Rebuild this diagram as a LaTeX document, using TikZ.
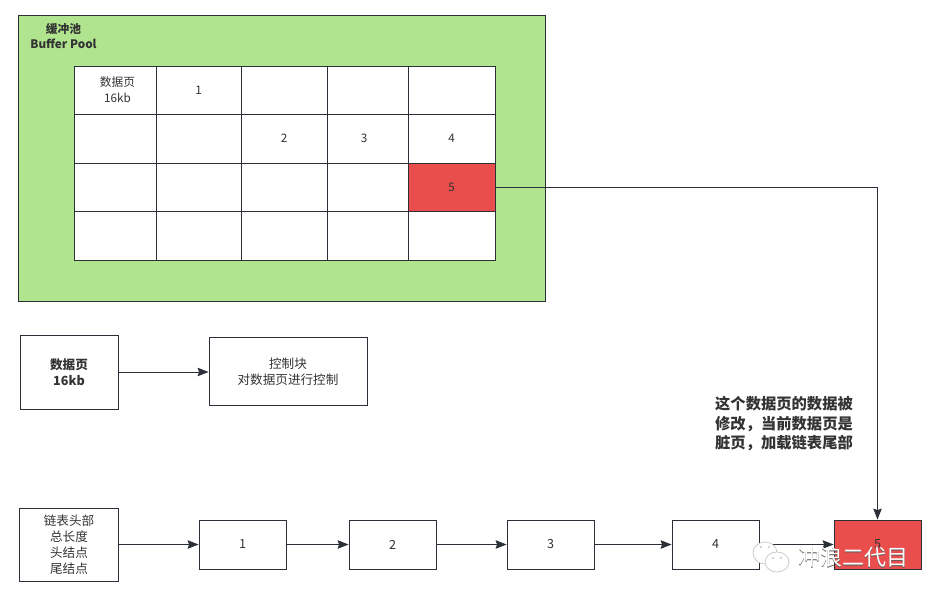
\documentclass[tikz,border=0pt]{standalone}
\usepackage{fontspec}
\setmainfont{Noto Sans CJK SC}
\usetikzlibrary{arrows.meta}
\definecolor{ln}{HTML}{2B3038}
\definecolor{txt}{HTML}{333333}
\definecolor{gr}{HTML}{B0E48F}
\definecolor{rd}{HTML}{E94E4C}
\tikzset{
 x=1pt,y=-1pt,
 box/.style={draw=ln,line width=0.85pt,fill=white,inner sep=0pt,text=txt,align=center,font=\fontsize{12.6}{16}\selectfont},
 cellbox/.style={box,font=\fontsize{11.7}{16}\selectfont},
 conn/.style={draw=ln,line width=0.85pt,-{Stealth[length=11pt,width=8.5pt,inset=1.5pt]}},
 boldtext/.style={font=\fontsize{12.6}{16}\selectfont\bfseries},
}
\begin{document}
\begin{tikzpicture}
\useasboundingbox (0,0) rectangle (941,599);
\node[box,fill=gr,minimum width=527pt,minimum height=286pt] (pool) at (282,158) {};
\node[text=txt,align=center,inner sep=0pt,font=\fontsize{11.7}{14.5}\selectfont\bfseries] (pooltxt) at (63.5,36) {缓冲池\\Buffer Pool};
% grid
\node[cellbox,minimum width=82pt,minimum height=48pt] (c11) at (115,90) {\hspace*{5pt}数据页\\\hspace*{5pt}16kb};
\node[cellbox,minimum width=85pt,minimum height=48pt] (c12) at (198.5,90) {1};
\node[cellbox,minimum width=86pt,minimum height=48pt] (c13) at (284,90) {};
\node[cellbox,minimum width=81pt,minimum height=48pt] (c14) at (367.5,90) {};
\node[cellbox,minimum width=87pt,minimum height=48pt] (c15) at (451.5,90) {};
\node[cellbox,minimum width=82pt,minimum height=49pt] (c21) at (115,138.5) {};
\node[cellbox,minimum width=85pt,minimum height=49pt] (c22) at (198.5,138.5) {};
\node[cellbox,minimum width=86pt,minimum height=49pt] (c23) at (284,138.5) {2};
\node[cellbox,minimum width=81pt,minimum height=49pt] (c24) at (367.5,138.5) {\hspace*{-7pt}3};
\node[cellbox,minimum width=87pt,minimum height=49pt] (c25) at (451.5,138.5) {4};
\node[cellbox,minimum width=82pt,minimum height=48pt] (c31) at (115,187) {};
\node[cellbox,minimum width=85pt,minimum height=48pt] (c32) at (198.5,187) {};
\node[cellbox,minimum width=86pt,minimum height=48pt] (c33) at (284,187) {};
\node[cellbox,minimum width=81pt,minimum height=48pt] (c34) at (367.5,187) {};
\node[cellbox,fill=rd,minimum width=87pt,minimum height=48pt] (c35) at (451.5,187) {5};
\node[cellbox,minimum width=82pt,minimum height=49pt] (c41) at (115,235.5) {};
\node[cellbox,minimum width=85pt,minimum height=49pt] (c42) at (198.5,235.5) {};
\node[cellbox,minimum width=86pt,minimum height=49pt] (c43) at (284,235.5) {};
\node[cellbox,minimum width=81pt,minimum height=49pt] (c44) at (367.5,235.5) {};
\node[cellbox,minimum width=87pt,minimum height=49pt] (c45) at (451.5,235.5) {};
% middle
\node[box,boldtext,minimum width=98pt,minimum height=74pt] (page) at (69,372) {数据页\\16kb};
\node[box,minimum width=158pt,minimum height=68pt] (ctrl) at (288,371.5) {控制块\\对数据页进行控制};
\draw[conn] (page.east) -- (ctrl.west |- page.east);
% list
\node[box,minimum width=99pt,minimum height=73pt] (head) at (69,544.5) {链表头部\\总长度\\头结点\\尾结点};
\node[box,minimum width=87pt,minimum height=49pt] (n1) at (242.5,544.5) {1};
\node[box,minimum width=87pt,minimum height=49pt] (n2) at (392.5,544.5) {2};
\node[box,minimum width=87pt,minimum height=49pt] (n3) at (550.5,544.5) {3};
\node[box,minimum width=87pt,minimum height=49pt] (n4) at (715.5,544.5) {4};
\node[box,fill=rd,minimum width=87pt,minimum height=49pt] (n5) at (877.5,544.5) {5};
\draw[conn] (head) -- (n1);
\draw[conn] (n1) -- (n2);
\draw[conn] (n2) -- (n3);
\draw[conn] (n3) -- (n4);
\draw[conn] (n4) -- (n5);
\draw[conn] (c35.east) -| (n5.north);
\node[inner sep=0pt,align=left,text=txt,font=\fontsize{15.3}{19.5}\selectfont\bfseries] (note) at (784,424) {这个数据页的数据被\\修改，当前数据页是\\脏页，加载链表尾部};
% watermark
\node[inner sep=0pt,text=black!65,font=\fontsize{22}{22}\selectfont] (wmshadow) at (853.8,557.8) {冲浪二代目};
\node[inner sep=0pt,text=white,font=\fontsize{22}{22}\selectfont] (wm) at (853,557) {冲浪二代目};
\draw[draw=gray!45,fill=white,line width=.7pt] (765,553) ellipse (12pt and 11pt);
\draw[draw=gray!45,fill=white,line width=.7pt] (777,562) ellipse (12pt and 10pt);
\fill[gray!70] (761,547) circle (.8pt) (769,547) circle (.8pt) (773,558) circle (.8pt) (781,558) circle (.8pt);
\end{tikzpicture}
\end{document}
